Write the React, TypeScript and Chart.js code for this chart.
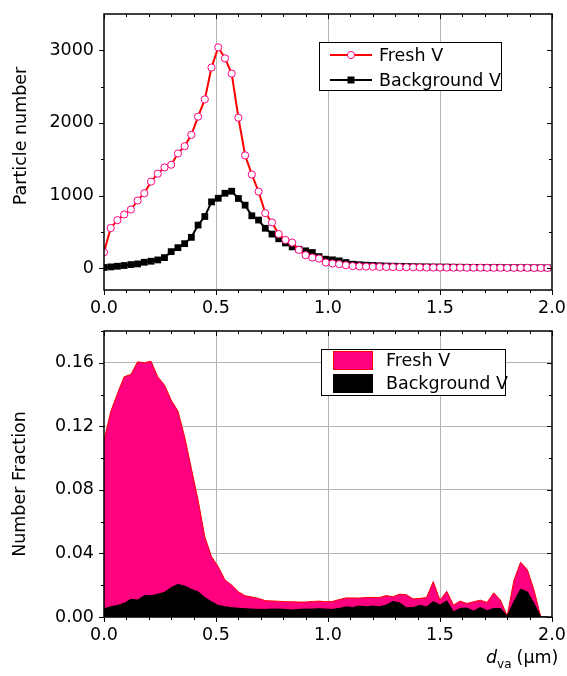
import React, { useEffect, useRef } from 'react';
import { Chart, registerables } from 'chart.js';
Chart.register(...registerables);

const FONT = "'DejaVu Sans', 'Liberation Sans', Arial, sans-serif";
const FS = 17.5;

// particle vacuum aerodynamic diameter bins (µm)
const sizes = [
  0.0, 0.03, 0.06, 0.09, 0.12, 0.15, 0.18, 0.21, 0.24, 0.27, 0.3, 0.33, 0.36, 0.39, 0.42, 0.45, 0.48,
  0.51, 0.54, 0.57, 0.6, 0.63, 0.66, 0.69, 0.72, 0.75, 0.78, 0.81, 0.84, 0.87, 0.9, 0.93, 0.96, 0.99,
  1.02, 1.05, 1.08, 1.11, 1.14, 1.17, 1.2, 1.23, 1.26, 1.29, 1.32, 1.35, 1.38, 1.41, 1.44, 1.47, 1.5,
  1.53, 1.56, 1.59, 1.62, 1.65, 1.68, 1.71, 1.74, 1.77, 1.8, 1.83, 1.86, 1.89, 1.92, 1.95, 1.98,
];

const freshCount = [
  219, 553, 662, 740, 808, 932, 1032, 1192, 1301, 1388, 1425, 1580, 1680, 1836, 2087, 2324, 2763,
  3041, 2890, 2680, 2073, 1553, 1290, 1055, 758, 630, 470, 390, 353, 252, 179, 147, 133, 78,
  64, 55, 41, 30, 25, 22, 20, 18, 16, 15, 14, 13, 12, 11, 10, 10, 9,
  9, 8, 8, 7, 7, 7, 6, 6, 6, 5, 5, 5, 5, 4, 4, 4,
];

const backgroundCount = [
  10, 18, 27, 37, 50, 59, 82, 96, 114, 146, 228, 283, 338, 425, 594, 712, 913,
  963, 1032, 1060, 960, 868, 722, 663, 550, 470, 405, 348, 294, 261, 239, 216, 160, 124,
  115, 101, 78, 55, 48, 42, 38, 34, 30, 28, 26, 24, 22, 20, 18, 17, 16,
  15, 14, 13, 12, 11, 10, 10, 9, 9, 8, 8, 7, 7, 6, 6, 5,
];

const freshFraction = [
  0.1113, 0.1292, 0.1407, 0.1512, 0.1527, 0.1606, 0.16, 0.161, 0.1512, 0.146, 0.1365, 0.1296, 0.1134,
  0.0935, 0.0736, 0.0505, 0.038, 0.0317, 0.0233, 0.0201, 0.0159, 0.0134, 0.0126, 0.0117, 0.0103,
  0.0101, 0.0099, 0.0096, 0.0096, 0.0094, 0.0094, 0.0098, 0.01, 0.0096, 0.0098, 0.011, 0.012, 0.012,
  0.0119, 0.0123, 0.0123, 0.0123, 0.0135, 0.0127, 0.0144, 0.014, 0.0114, 0.0117, 0.0123, 0.0223,
  0.0106, 0.0162, 0.0075, 0.01, 0.0085, 0.0096, 0.0106, 0.0092, 0.0152, 0.0106, 0.0006, 0.0231,
  0.0345, 0.0297, 0.0168, 0, 0,
];

const backgroundFraction = [
  0.0052, 0.0065, 0.0073, 0.0086, 0.0111, 0.0107, 0.0134, 0.0134, 0.0143, 0.0155, 0.0185, 0.0205,
  0.0195, 0.0174, 0.0159, 0.0122, 0.0096, 0.0073, 0.0065, 0.0059, 0.0055, 0.0052, 0.005, 0.0048,
  0.0048, 0.005, 0.005, 0.0048, 0.0044, 0.0048, 0.005, 0.005, 0.0052, 0.005, 0.0048, 0.0054, 0.0064,
  0.006, 0.0069, 0.0064, 0.0069, 0.0064, 0.0075, 0.0098, 0.0089, 0.0058, 0.006, 0.0073, 0.0064,
  0.0098, 0.0075, 0.0102, 0.0033, 0.0054, 0.0056, 0.0037, 0.006, 0.004, 0.0054, 0.0054, 0.0006,
  0.0096, 0.0175, 0.0158, 0.0085, 0, 0,
];

const seriesNames = ['Fresh V', 'Background V'];

const xMajorTicks = [0, 0.5, 1.0, 1.5, 2.0];
const xMinorTicks = [0.1, 0.2, 0.3, 0.4, 0.6, 0.7, 0.8, 0.9, 1.1, 1.2, 1.3, 1.4, 1.6, 1.7, 1.8, 1.9];
const xGridValues = [0.5, 1.0, 1.5];

const topYMajorTicks = [0, 1000, 2000, 3000];
const topYMinorTicks = [500, 1500, 2500];

const botYMajorTicks = [0, 0.04, 0.08, 0.12, 0.16];
const botYMinorTicks = [0.02, 0.06, 0.1, 0.14, 0.18];
const botYGridValues = [0.04, 0.08, 0.12, 0.16];

const near = (arr: number[], v: number) => arr.some((a) => Math.abs(a - v) < 1e-9);

function framePlugin(xMaj: number[], xMin: number[], yMaj: number[], yMin: number[]) {
  return {
    id: 'frameTicks',
    afterDatasetsDraw(chart: any) {
      const { ctx, chartArea: a, scales } = chart;
      const xs = scales.x;
      const ys = scales.y;
      ctx.save();
      ctx.strokeStyle = '#000';
      ctx.lineWidth = 1;
      const seg = (x1: number, y1: number, x2: number, y2: number) => {
        ctx.beginPath();
        ctx.moveTo(x1, y1);
        ctx.lineTo(x2, y2);
        ctx.stroke();
      };
      const xt = (vals: number[], len: number) => {
        vals.forEach((v) => {
          const p = Math.round(xs.getPixelForValue(v)) + 0.5;
          seg(p, a.bottom, p, a.bottom + len);
          seg(p, a.top, p, a.top + len);
        });
      };
      const yt = (vals: number[], len: number) => {
        vals.forEach((v) => {
          const p = Math.round(ys.getPixelForValue(v)) + 0.5;
          seg(a.left - len, p, a.left, p);
          seg(a.right - len, p, a.right, p);
        });
      };
      xt(xMaj, 5);
      xt(xMin, 3);
      yt(yMaj, 5);
      yt(yMin, 3);
      ctx.lineWidth = 1.5;
      ctx.strokeRect(a.left, a.top, a.right - a.left, a.bottom - a.top);
      ctx.restore();
    },
  };
}

function yTitlePlugin(text: string, cx: number, cy: number) {
  return {
    id: 'yTitle',
    afterDraw(chart: any) {
      const ctx = chart.ctx;
      ctx.save();
      ctx.translate(cx, cy);
      ctx.rotate(-Math.PI / 2);
      ctx.font = `${FS}px ${FONT}`;
      ctx.fillStyle = '#000';
      ctx.textAlign = 'center';
      ctx.textBaseline = 'middle';
      ctx.fillText(text, 0, 0);
      ctx.restore();
    },
  };
}

const topLegendPlugin = {
  id: 'topLegend',
  afterDraw(chart: any) {
    const ctx = chart.ctx;
    const ds = chart.data.datasets;
    ctx.save();
    ctx.fillStyle = '#fff';
    ctx.fillRect(319.5, 42.5, 182, 48);
    ctx.strokeStyle = '#000';
    ctx.lineWidth = 1;
    ctx.strokeRect(319.5, 42.5, 182, 48);
    const rows = [55, 80];
    ds.forEach((d: any, i: number) => {
      const y = rows[i];
      ctx.strokeStyle = d.borderColor;
      ctx.lineWidth = 2;
      ctx.beginPath();
      ctx.moveTo(330, y);
      ctx.lineTo(372, y);
      ctx.stroke();
      if (d.pointStyle === 'rect') {
        ctx.fillStyle = d.pointBackgroundColor;
        ctx.fillRect(351 - 3.5, y - 3.5, 7, 7);
      } else {
        ctx.beginPath();
        ctx.arc(351, y, 3.6, 0, Math.PI * 2);
        ctx.fillStyle = d.pointBackgroundColor;
        ctx.fill();
        ctx.lineWidth = 1;
        ctx.strokeStyle = d.pointBorderColor;
        ctx.stroke();
      }
      ctx.fillStyle = '#000';
      ctx.font = `${FS}px ${FONT}`;
      ctx.textBaseline = 'middle';
      ctx.textAlign = 'left';
      ctx.fillText(d.label, 379, y + 1);
    });
    ctx.restore();
  },
};

const botLegendPlugin = {
  id: 'botLegend',
  afterDraw(chart: any) {
    const ctx = chart.ctx;
    const ds = chart.data.datasets;
    ctx.save();
    ctx.fillStyle = '#fff';
    ctx.fillRect(321.5, 31.5, 184, 46);
    ctx.strokeStyle = '#000';
    ctx.lineWidth = 1;
    ctx.strokeRect(321.5, 31.5, 184, 46);
    const rows = [33, 56];
    ds.forEach((d: any, i: number) => {
      const y = rows[i];
      ctx.fillStyle = d.backgroundColor;
      ctx.fillRect(333, y, 40, 19);
      ctx.strokeStyle = d.borderColor;
      ctx.lineWidth = 1;
      ctx.strokeRect(333.5, y + 0.5, 39, 18);
      ctx.fillStyle = '#000';
      ctx.font = `${FS}px ${FONT}`;
      ctx.textBaseline = 'middle';
      ctx.textAlign = 'left';
      ctx.fillText(d.label, 386, y + 10);
    });
    ctx.restore();
  },
};

const xTitlePlugin = {
  id: 'xTitle',
  afterDraw(chart: any) {
    const ctx = chart.ctx;
    ctx.save();
    ctx.fillStyle = '#000';
    ctx.textBaseline = 'alphabetic';
    ctx.textAlign = 'left';
    let x = 486;
    ctx.font = `italic ${FS}px ${FONT}`;
    ctx.fillText('d', x, 345);
    x += ctx.measureText('d').width;
    ctx.font = `12px ${FONT}`;
    ctx.fillText('va', x, 350);
    x += ctx.measureText('va').width + 5;
    ctx.font = `${FS}px ${FONT}`;
    ctx.fillText('(\u03bcm)', x, 345);
    ctx.restore();
  },
};

function tickFont() {
  return { family: FONT, size: FS };
}

function fixX(h: number) {
  return (s: any) => {
    s.height = h;
    s.paddingLeft = 0;
    s.paddingRight = 0;
  };
}

function fixY(s: any) {
  s.width = 104;
  s.paddingTop = 0;
  s.paddingBottom = 0;
}

export default function App() {
  const topRef = useRef<HTMLCanvasElement>(null);
  const botRef = useRef<HTMLCanvasElement>(null);

  useEffect(() => {
    const gridColor = '#b4b4b4';
    const clear = 'rgba(0,0,0,0)';

    const top = new Chart(topRef.current!, {
      type: 'line',
      data: {
        datasets: [
          {
            label: seriesNames[0],
            data: sizes.map((x, i) => ({ x, y: freshCount[i] })),
            borderColor: '#ff0000',
            borderWidth: 2,
            pointStyle: 'circle',
            pointRadius: 3.6,
            pointBorderWidth: 1,
            pointBorderColor: '#ff0080',
            pointBackgroundColor: '#ffffff',
            tension: 0,
            fill: false,
          },
          {
            label: seriesNames[1],
            data: sizes.map((x, i) => ({ x, y: backgroundCount[i] })),
            borderColor: '#000000',
            borderWidth: 2,
            pointStyle: 'rect',
            pointRadius: 4.8,
            pointBorderWidth: 0,
            pointBorderColor: '#000000',
            pointBackgroundColor: '#000000',
            tension: 0,
            fill: false,
          },
        ],
      } as any,
      options: {
        animation: false,
        responsive: false,
        events: [],
        layout: { padding: { left: 0, right: 15, top: 14, bottom: 0 } },
        plugins: { legend: { display: false }, tooltip: { enabled: false } },
        scales: {
          x: {
            type: 'linear',
            min: 0,
            max: 2,
            afterBuildTicks: (s: any) => {
              s.ticks = xMajorTicks.map((v) => ({ value: v }));
            },
            afterFit: fixX(28),
            grid: {
              drawTicks: false,
              color: (c: any) => (c.tick && near(xGridValues, c.tick.value) ? gridColor : clear),
            },
            border: { display: false },
            ticks: {
              padding: 8,
              color: '#000',
              font: tickFont(),
              maxRotation: 0,
              autoSkip: false,
              callback: (v: any) => Number(v).toFixed(1),
            },
          },
          y: {
            type: 'linear',
            min: -300,
            max: 3500,
            afterBuildTicks: (s: any) => {
              s.ticks = topYMajorTicks.map((v) => ({ value: v }));
            },
            afterFit: fixY,
            grid: { display: false, drawTicks: false },
            border: { display: false },
            ticks: {
              padding: 10,
              color: '#000',
              font: tickFont(),
              callback: (v: any) => String(v),
            },
          },
        },
      } as any,
      plugins: [
        framePlugin(xMajorTicks, xMinorTicks, topYMajorTicks, topYMinorTicks),
        yTitlePlugin('Particle number', 21, 136),
        topLegendPlugin,
      ],
    });

    const bot = new Chart(botRef.current!, {
      type: 'line',
      data: {
        datasets: [
          {
            label: seriesNames[0],
            data: sizes.map((x, i) => ({ x, y: freshFraction[i] })),
            borderColor: '#ff0000',
            backgroundColor: '#ff0080',
            borderWidth: 1,
            pointRadius: 0,
            tension: 0,
            fill: 'origin',
            order: 2,
          },
          {
            label: seriesNames[1],
            data: sizes.map((x, i) => ({ x, y: backgroundFraction[i] })),
            borderColor: '#000000',
            backgroundColor: '#000000',
            borderWidth: 1,
            pointRadius: 0,
            tension: 0,
            fill: 'origin',
            order: 1,
          },
        ],
      } as any,
      options: {
        animation: false,
        responsive: false,
        events: [],
        layout: { padding: { left: 0, right: 15, top: 13, bottom: 0 } },
        plugins: { legend: { display: false }, tooltip: { enabled: false } },
        scales: {
          x: {
            type: 'linear',
            min: 0,
            max: 2,
            afterBuildTicks: (s: any) => {
              s.ticks = xMajorTicks.map((v) => ({ value: v }));
            },
            afterFit: fixX(59),
            grid: {
              drawTicks: false,
              color: (c: any) => (c.tick && near(xGridValues, c.tick.value) ? gridColor : clear),
            },
            border: { display: false },
            ticks: {
              padding: 8,
              color: '#000',
              font: tickFont(),
              maxRotation: 0,
              autoSkip: false,
              callback: (v: any) => Number(v).toFixed(1),
            },
          },
          y: {
            type: 'linear',
            min: 0,
            max: 0.18,
            afterBuildTicks: (s: any) => {
              s.ticks = botYMajorTicks.map((v) => ({ value: v }));
            },
            afterFit: fixY,
            grid: {
              drawTicks: false,
              color: (c: any) => (c.tick && near(botYGridValues, c.tick.value) ? gridColor : clear),
            },
            border: { display: false },
            ticks: {
              padding: 10,
              color: '#000',
              font: tickFont(),
              callback: (v: any) => Number(v).toFixed(2),
            },
          },
        },
      } as any,
      plugins: [
        framePlugin(xMajorTicks, xMinorTicks, botYMajorTicks, botYMinorTicks),
        yTitlePlugin('Number Fraction', 20, 166),
        botLegendPlugin,
        xTitlePlugin,
      ],
    });

    return () => {
      top.destroy();
      bot.destroy();
    };
  }, []);

  return (
    <div
      style={{
        position: 'absolute',
        left: 0,
        top: 0,
        width: 567,
        height: 676,
        background: '#fff',
      }}
    >
      <canvas
        ref={topRef}
        width={567}
        height={318}
        style={{ position: 'absolute', left: 0, top: 0, width: 567, height: 318 }}
      />
      <canvas
        ref={botRef}
        width={567}
        height={358}
        style={{ position: 'absolute', left: 0, top: 318, width: 567, height: 358 }}
      />
    </div>
  );
}
